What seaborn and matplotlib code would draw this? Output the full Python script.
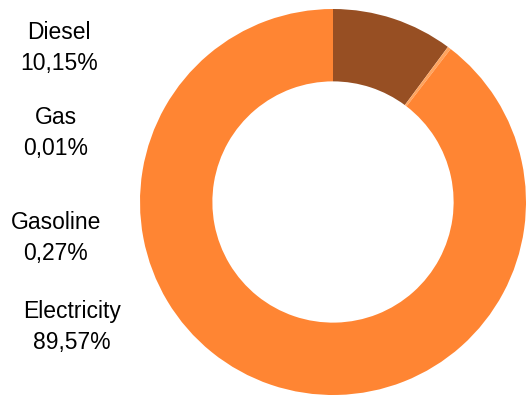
import matplotlib
matplotlib.use("Agg")
import matplotlib.pyplot as plt
import seaborn as sns

categories = ["Diesel", "Gas", "Gasoline", "Electricity"]
values = [10.15, 0.01, 0.27, 89.57]
labels = ["10,15%", "0,01%", "0,27%", "89,57%"]
colors = ["#974F23", "#FFA45E", "#FFA45E", "#FF8533"]

sns.set_theme(style="white")
plt.rcParams["font.family"] = ["Liberation Sans", "DejaVu Sans"]

fig = plt.figure(figsize=(5.26, 3.95), dpi=100)
# pie axes: center at (333, 202) px, outer radius ~193 px
R = 193
cx, cy = 333, 202
ax = fig.add_axes([(cx - R) / 526, (395 - cy - R) / 395, 2 * R / 526, 2 * R / 395])
ax.pie(values, colors=colors, startangle=90, counterclock=False,
       radius=1.0, wedgeprops=dict(width=0.375, edgecolor="none"))
ax.set_xlim(-1, 1)
ax.set_ylim(-1, 1)
ax.set_aspect("equal")
ax.axis("off")

label_pos = [(59, 48), (56, 133), (56, 238), (72, 327)]
for cat, lab, (x, y) in zip(categories, labels, label_pos):
    fig.text(x / 526, 1 - y / 395, f"{cat}\n{lab}", ha="center", va="center",
             fontsize=16.5, color="#000000", linespacing=1.45)

fig.savefig("out.png", dpi=100)
